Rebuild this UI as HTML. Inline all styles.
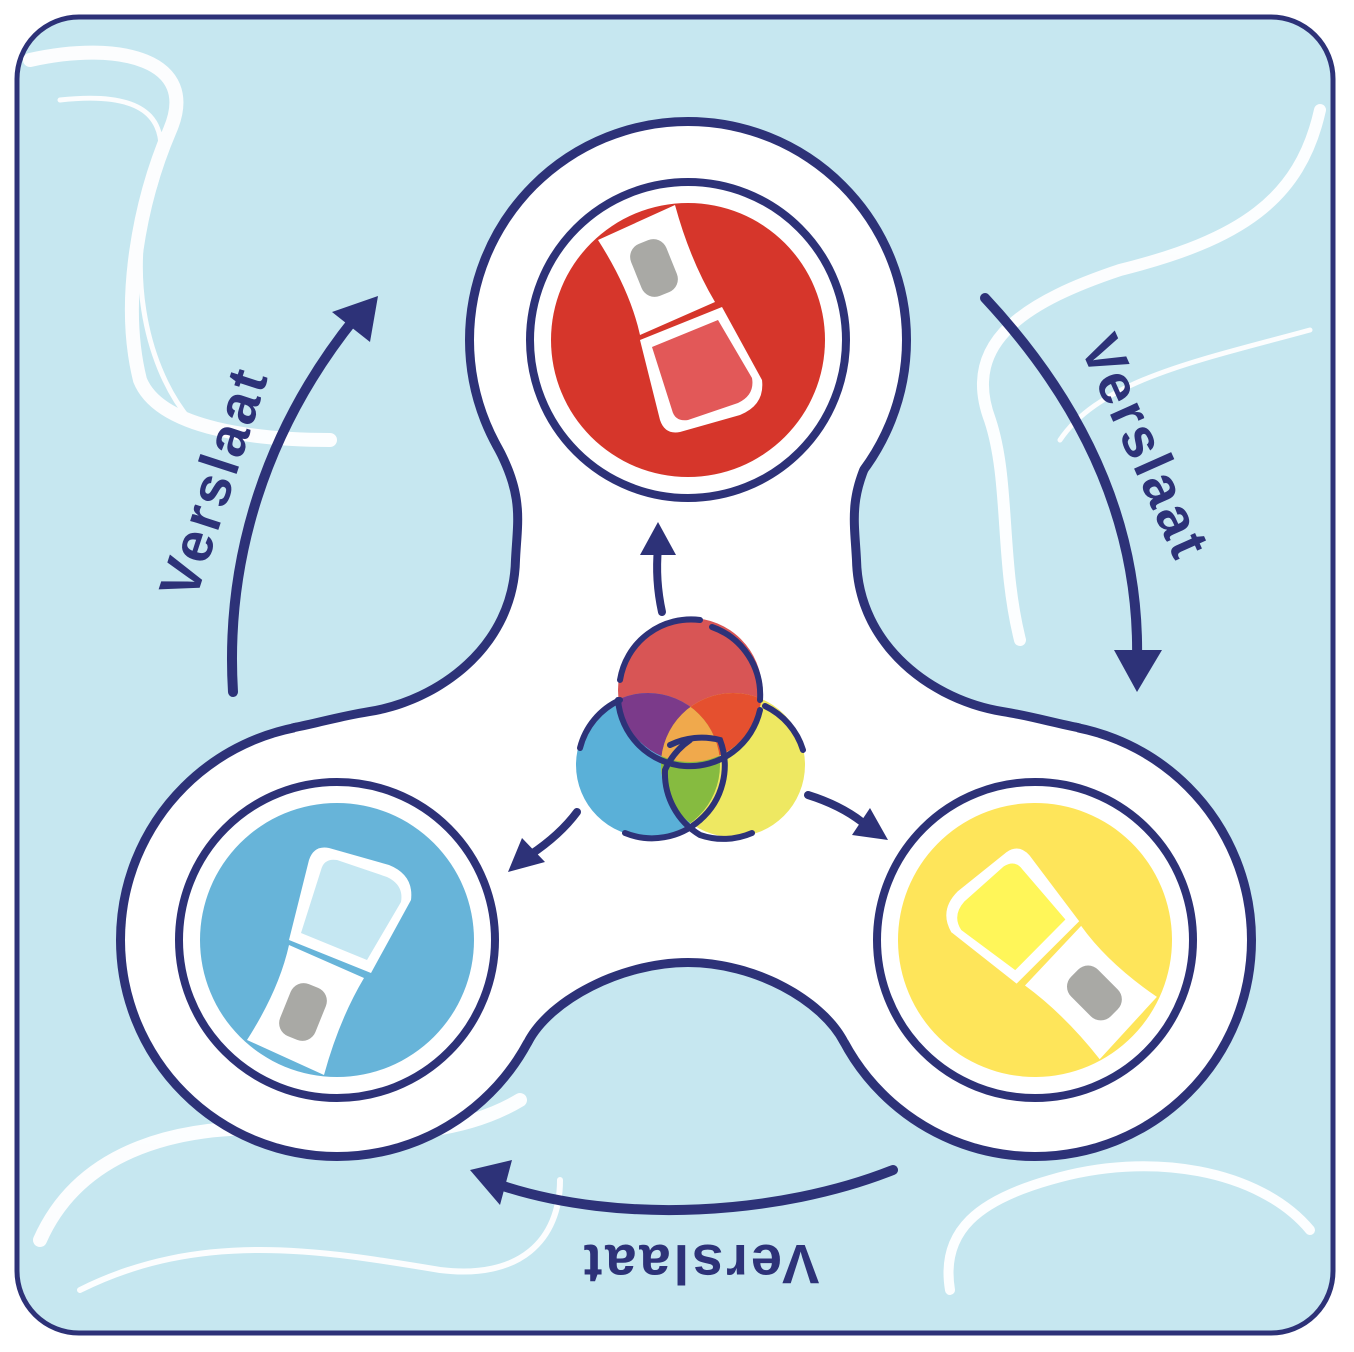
<!DOCTYPE html>
<html><head><meta charset="utf-8"><style>
html,body{margin:0;padding:0;background:#fff}
svg{display:block}
text{font-family:"Liberation Sans",sans-serif;font-weight:bold;fill:#2d3278}
</style></head><body>
<svg width="1354" height="1352" viewBox="0 0 1354 1352" xmlns="http://www.w3.org/2000/svg">
<defs>
<clipPath id="cR"><circle cx="690" cy="690" r="72"/></clipPath>
<clipPath id="cB"><circle cx="648" cy="765" r="72"/></clipPath>
<clipPath id="cY"><circle cx="733" cy="765" r="72"/></clipPath>
<clipPath id="dT"><circle cx="0" cy="0" r="137"/></clipPath>
<g id="brushShape">
<path d="M-90,-100 L-13,-135 Q2,-80 27,-38 L-48,-5 Q-58,-50 -90,-100 Z" fill="#fff"/>
<path d="M-48,0 L34,-33 L74,40 Q77,65 52,75 L-8,92 Q-23,95 -28,80 Z" fill="#fff"/>
<rect x="-53" y="-100" width="38" height="56" rx="14" fill="#a9a9a5" transform="rotate(-22 -34 -72)"/>
</g>
<path id="head" d="M-36,7 L30,-20 L64,38 Q67,55 50,63 L0,80 Q-13,82 -16,70 Z"/>
<path id="bodyP" d="M500,442 C529,495 522,520 520,560 C518,650 440,705 370,716 C340,721 320,727 295,732 L337,940 L524,1040 C547,996 620,958 688,958 C756,958 825,996 848,1040 L1035,940 L1077,732 C1052,727 1032,721 1002,716 C932,705 854,650 852,560 C850,520 843,495 872,442 L688,340 Z"/>
</defs>
<rect x="17" y="17" width="1316" height="1316" rx="62" fill="#c6e7f0" stroke="#2d3278" stroke-width="5"/>
<!-- swirls -->
<g fill="none" stroke="#fff" stroke-linecap="round" opacity="0.95">
<path d="M30 60 C120 40 200 60 170 130 C140 200 120 300 140 380 C160 430 260 440 330 440" stroke-width="14"/>
<path d="M60 100 C150 90 180 120 150 200 C130 260 140 360 190 420" stroke-width="5"/>
<path d="M1320 110 C1300 200 1240 240 1120 270 C1030 300 960 340 990 420 C1010 480 1000 560 1020 640" stroke-width="12"/>
<path d="M1310 330 C1200 360 1100 380 1060 440" stroke-width="5"/>
<path d="M40 1240 C80 1150 180 1120 300 1130 C400 1140 470 1130 520 1100" stroke-width="14"/>
<path d="M80 1290 C200 1230 320 1250 440 1270 C520 1280 560 1240 560 1180" stroke-width="6"/>
<path d="M1310 1230 C1260 1170 1150 1150 1050 1180 C980 1200 940 1230 950 1290" stroke-width="10"/>
</g>
<!-- spinner body -->
<g stroke="#2d3278" stroke-width="18" fill="#fff" stroke-linejoin="round">
<circle cx="688" cy="340" r="214"/>
<circle cx="337" cy="940" r="212"/>
<circle cx="1035" cy="940" r="212"/>
<use href="#bodyP"/>
</g>
<g fill="#fff">
<circle cx="688" cy="340" r="214"/>
<circle cx="337" cy="940" r="212"/>
<circle cx="1035" cy="940" r="212"/>
<use href="#bodyP"/>
</g>
<!-- rings and discs -->
<g fill="#fff" stroke="#2d3278" stroke-width="8">
<circle cx="688" cy="340" r="158"/>
<circle cx="337" cy="940" r="158"/>
<circle cx="1035" cy="940" r="158"/>
</g>
<g transform="translate(688,340)">
<circle r="137" fill="#d6362b"/>
<g clip-path="url(#dT)"><use href="#brushShape"/><use href="#head" fill="#e25858"/></g>
</g>
<g transform="translate(337,940) scale(1,-1)">
<circle r="137" fill="#67b4d9"/>
<g clip-path="url(#dT)"><use href="#brushShape"/><use href="#head" fill="#c5e7f2"/></g>
</g>
<g transform="translate(1035,940) rotate(157)">
<circle r="137" fill="#fee55a"/>
<g clip-path="url(#dT)"><use href="#brushShape"/><use href="#head" fill="#fff659"/></g>
</g>
<!-- venn -->
<circle cx="690" cy="690" r="72" fill="#d85555"/>
<circle cx="648" cy="765" r="72" fill="#5ab0d8"/>
<circle cx="733" cy="765" r="72" fill="#eee862"/>
<g clip-path="url(#cR)"><circle cx="648" cy="765" r="72" fill="#7b3a8a"/><circle cx="733" cy="765" r="72" fill="#e5502f"/></g>
<g clip-path="url(#cB)"><circle cx="733" cy="765" r="72" fill="#86bb40"/></g>
<g clip-path="url(#cB)"><g clip-path="url(#cY)"><circle cx="690" cy="690" r="72" fill="#f0a94c"/></g></g>
<g fill="none" stroke="#2d3278" stroke-width="6" stroke-linecap="round">
<path d="M712 627 A72 72 0 0 1 760 700"/>
<path d="M620 680 A72 72 0 0 1 700 620"/>
<path d="M618 700 A72 72 0 0 0 760 710"/>
<path d="M580 748 A72 72 0 0 1 620 700"/>
<path d="M625 833 A72 72 0 0 0 700 820"/>
<path d="M690 740 A72 72 0 0 0 665 770 A72 72 0 0 0 700 835 A72 72 0 0 0 752 833"/>
<path d="M670 745 A72 72 0 0 1 720 740 A72 72 0 0 1 700 820"/>
<path d="M765 706 A72 72 0 0 1 803 750"/>
</g>
<!-- small arrows -->
<g fill="none" stroke="#2d3278" stroke-width="8" stroke-linecap="round">
<path d="M662 612 Q655 580 658 548"/>
<path d="M577 812 Q560 835 530 855"/>
<path d="M808 795 Q840 805 862 822"/>
</g>
<g fill="#2d3278">
<path d="M658 522 L676 555 L640 555 Z"/>
<path d="M508 872 L522 838 L545 862 Z"/>
<path d="M888 840 L852 835 L870 808 Z"/>
</g>
<!-- big arrows -->
<g fill="none" stroke="#2d3278" stroke-width="10" stroke-linecap="round">
<path d="M233 692 C225 560 265 430 355 318"/>
<path d="M985 298 C1080 400 1140 520 1137 660"/>
<path d="M893 1170 C780 1215 620 1225 500 1185"/>
</g>
<g fill="#2d3278">
<path d="M378 296 L370 342 L332 312 Z"/>
<path d="M1137 692 L1114 650 L1162 650 Z"/>
<path d="M470 1170 L512 1160 L500 1205 Z"/>
</g>
<text x="0" y="0" font-size="56" letter-spacing="3" text-anchor="middle" transform="translate(232,488) rotate(-72)">Verslaat</text>
<text x="0" y="0" font-size="56" letter-spacing="3" text-anchor="middle" transform="translate(1128,455) rotate(66)">Verslaat</text>
<text x="0" y="0" font-size="56" letter-spacing="3" text-anchor="middle" transform="translate(700,1245) rotate(180)">Verslaat</text>
</svg>
</body></html>
